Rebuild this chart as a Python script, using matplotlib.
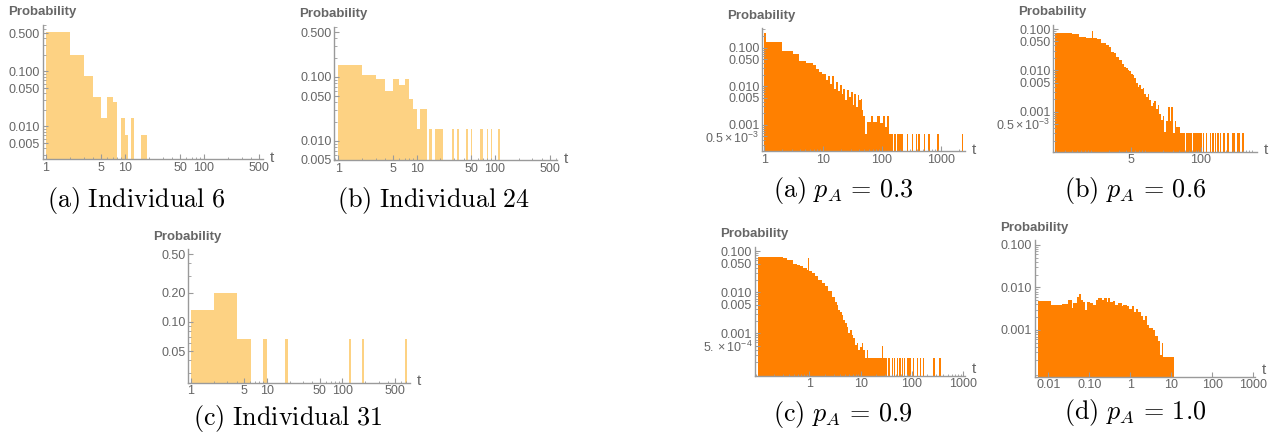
import numpy as np
import matplotlib
matplotlib.use('Agg')
import matplotlib.pyplot as plt
from matplotlib.ticker import NullFormatter

# ---- data: bin edges (t) and probabilities (0 = empty bin) ----
ind6_edges = [1, 2, 3, 4, 5, 6, 7, 8, 9, 10, 11, 12, 13, 16, 19]
ind6_prob = [0.53, 0.2, 0.083, 0.035, 0.0144, 0.035, 0.0275, 0, 0.0144, 0.0069, 0, 0.0144, 0, 0.0069]

ind24_edges = [1, 2, 3, 4, 5, 6, 7, 8, 9, 10, 11, 13.5, 14.4, 15.9, 17.3, 21.9, 28.5, 30.0, 33.0, 34.7,
               42.7, 44.8, 48.9, 51.4, 64.3, 69.6, 78.3, 82.2, 88.1, 92.5, 110, 116]
ind24_prob = [0.151, 0.106, 0.092, 0.061, 0.092, 0.075, 0.092, 0.0455, 0.031, 0.0155, 0.031, 0, 0.0155, 0,
              0.0155, 0, 0.0155, 0, 0.0155, 0, 0.0155, 0, 0.0155, 0, 0.0155, 0, 0.0155, 0, 0.0155, 0, 0.0155]

ind31_edges = [1, 2, 4.1, 6.15, 8.95, 10.2, 17.5, 18.9, 123, 131, 180, 191, 670, 712]
ind31_prob = [0.134, 0.2, 0.0666, 0, 0.0666, 0, 0.0666, 0, 0.0666, 0, 0.0666, 0, 0.0666]

pa03_edges = [1.0, 1.05, 2.02, 3.03, 3.93, 5.11, 6.81, 7.55, 8.61, 9.56, 11.2, 12.2, 13.1, 14.0, 15.3, 16.5,
              17.9, 19.3, 20.6, 22.0, 23.8, 25.1, 27.1, 29.3, 31.7, 33.4, 36.2, 39.1, 41.2, 43.4, 45.7, 48.2,
              52.1, 54.9, 64.2, 71.2, 81.2, 92.5, 103, 113, 120, 133, 146, 155, 160, 175, 180, 200, 205, 225,
              262, 280, 319, 341, 376, 395, 412, 441, 518, 543, 612, 655, 870, 913, 2250, 2350]
pa03_prob = [0.237, 0.143, 0.082, 0.071, 0.045, 0.0414, 0.0353, 0.0289, 0.0236, 0.0206, 0.0143, 0.0183,
             0.0117, 0.0183, 0.0087, 0.013, 0.0076, 0.0106, 0.0065, 0.0087, 0.0043, 0.0079, 0.0053, 0.0071,
             0.0032, 0.0065, 0.0029, 0.0058, 0.0043, 0.0048, 0.0024, 0.0017, 0.00058, 0.0012, 0.0017, 0.0012,
             0.0017, 0.0011, 0.0017, 0.00087, 0.0017, 0.00058, 0.00058, 0, 0.00058, 0, 0.00058, 0, 0.00058,
             0, 0.00058, 0, 0.00058, 0, 0.00058, 0, 0.00058, 0, 0.00058, 0, 0.00058, 0, 0.00058, 0, 0.00058]

pa06_edges = [0.196, 0.403, 0.537, 0.716, 0.955, 0.998, 1.186, 1.37, 1.70, 1.96, 2.11, 2.43, 2.69, 3.02,
              3.39, 3.75, 4.03, 4.33, 4.65, 5.0, 5.37, 5.77, 6.21, 6.67, 7.17, 7.70, 8.28, 8.89, 9.56, 10.27,
              11.04, 11.86, 12.74, 13.69, 14.7, 15.8, 17.0, 18.3, 19.6, 21.1, 22.7, 24.4, 26.2, 28.1, 30.2,
              32.5, 34.9, 40.3, 52, 54, 70, 73, 95, 98, 104, 110, 116, 124, 131, 147, 156, 165, 175, 183,
              194, 202, 214, 226, 239, 262, 277, 311, 329, 375, 397, 403, 427, 465, 492, 500, 530, 577, 638]
pa06_prob = [0.0786, 0.0743, 0.0652, 0.0617, 0.0895, 0.0617, 0.0562, 0.045, 0.041, 0.0374, 0.0283, 0.0258,
             0.0214, 0.0178, 0.0142, 0.0123, 0.0112, 0.0102, 0.0098, 0.0081, 0.0077, 0.0064, 0.005, 0.0039,
             0.0044, 0.0035, 0.0037, 0.0027, 0.0023, 0.0027, 0.0019, 0.0014, 0.0016, 0.0018, 0.0012, 0.0015,
             0.0009, 0.00063, 0.0008, 0.00033, 0.0006, 0.0013, 0.0006, 0.0013, 0.00031, 0.0006, 0.00043,
             0.00031, 0, 0.00031, 0, 0.00031, 0, 0.00031, 0, 0.00031, 0, 0.00031, 0, 0.00031, 0, 0.00031, 0,
             0.00031, 0, 0.00031, 0, 0.00031, 0, 0.00031, 0, 0.00031, 0, 0.00031, 0, 0.00031, 0, 0.00031, 0,
             0.00031, 0, 0.00031]

pa09_edges = [0.1015, 0.311, 0.362, 0.488, 0.567, 0.658, 0.764, 0.887, 0.956, 1.0, 1.11, 1.29, 1.50, 1.74,
              2.02, 2.35, 2.72, 3.16, 3.41, 3.67, 3.96, 4.26, 4.60, 4.95, 5.34, 5.75, 6.20, 6.68, 7.20, 7.76,
              8.36, 9.01, 9.70, 10.46, 11.27, 12.15, 13.09, 14.1, 23.8, 25.7, 26.8, 32.1, 34.6, 36.7, 40.2,
              42.7, 44.6, 47.4, 50.3, 53.4, 56.6, 60.1, 62.9, 66.8, 69.8, 74.1, 78.7, 83.6, 84.8, 90, 91.4,
              97, 106, 112, 123, 131, 143, 152, 161, 171, 260, 276, 341, 362]
pa09_prob = [0.0713, 0.0687, 0.0625, 0.049, 0.0471, 0.0429, 0.039, 0.0356, 0.0687, 0.0336, 0.0295, 0.0244,
             0.0202, 0.0168, 0.0139, 0.0105, 0.0079, 0.0057, 0.0049, 0.0037, 0.0034, 0.0028, 0.0021, 0.0018,
             0.00145, 0.001, 0.0012, 0.00091, 0.00076, 0.00052, 0.00057, 0.00039, 0.00047, 0.00057, 0.00039,
             0.00025, 0.00039, 0.00025, 0.00025, 0.0005, 0.00025, 0, 0.00025, 0, 0.00025, 0, 0.00025, 0,
             0.00025, 0, 0.00025, 0, 0.00025, 0, 0.00025, 0, 0.00025, 0, 0.00025, 0, 0.00025, 0, 0.00025, 0,
             0.00025, 0, 0.00025, 0, 0.00025, 0, 0.00025, 0, 0.00025]

pa10_edges = [0.0055, 0.0114, 0.016, 0.0211, 0.0307, 0.0371, 0.0407, 0.051, 0.057, 0.0615, 0.0688, 0.0784,
              0.0894, 0.1038, 0.1206, 0.1454, 0.166, 0.2, 0.228, 0.265, 0.291, 0.319, 0.385, 0.423, 0.51,
              0.615, 0.675, 0.814, 0.945, 1.078, 1.229, 1.375, 1.567, 1.786, 2.0, 2.28, 2.50, 2.91, 3.51,
              4.0, 4.82, 5.29, 5.81, 6.38, 10.2, 11.6]
pa10_prob = [0.00486, 0.0038, 0.0039, 0.0041, 0.0051, 0.0033, 0.0043, 0.0061, 0.0070, 0.0051, 0.0045, 0.0030,
             0.0045, 0.0043, 0.0038, 0.0051, 0.0056, 0.0051, 0.0056, 0.0045, 0.0056, 0.0045, 0.00486, 0.0038,
             0.0043, 0.0036, 0.0039, 0.0036, 0.0031, 0.0036, 0.0027, 0.0031, 0.0026, 0.0021, 0.0017, 0.0021,
             0.0013, 0.0011, 0.001, 0.00071, 0.00054, 0.00026, 0.0005, 0.00023, 0.00023]

YELLOW = '#FDD283'
ORANGE = '#FF8000'
TXT = '#666666'
LINE = '#9a9a9a'

plt.rcParams['font.family'] = ['Liberation Sans', 'DejaVu Sans']
plt.rcParams['mathtext.fontset'] = 'custom'
plt.rcParams['mathtext.rm'] = 'Liberation Sans'
plt.rcParams['mathtext.it'] = 'Liberation Sans:italic'

W, H = 1281, 434
fig = plt.figure(figsize=(W / 100, H / 100), dpi=100)


def rect(l, r, t, b):
    return [l / W, 1 - b / H, (r - l) / W, (b - t) / H]


def panel(box, edges, probs, color, xlim, ylim, xt, xtl, yt, ytl, t_up=1):
    ax = fig.add_axes(rect(*box))
    ax.set_xscale('log')
    ax.set_yscale('log')
    e = np.asarray(edges, float)
    p = np.asarray(probs, float)
    keep = p > 0
    ax.bar(e[:-1][keep], p[keep], width=np.diff(e)[keep], bottom=1e-9,
           align='edge', color=color, linewidth=0)
    ax.set_xlim(*xlim)
    ax.set_ylim(*ylim)
    ax.set_xticks(xt)
    ax.set_xticklabels(xtl)
    ax.set_yticks(yt)
    ax.set_yticklabels(ytl)
    ax.xaxis.set_minor_formatter(NullFormatter())
    ax.yaxis.set_minor_formatter(NullFormatter())
    for s in ['top', 'right']:
        ax.spines[s].set_visible(False)
    for s in ['left', 'bottom']:
        ax.spines[s].set_color(LINE)
        ax.spines[s].set_linewidth(1.0)
    ax.tick_params(which='major', direction='in', length=3.5, width=0.8, color=LINE,
                   labelcolor=TXT, labelsize=9, pad=2)
    ax.tick_params(which='minor', direction='in', length=1.8, width=0.6, color=LINE)
    ax.patch.set_alpha(0)
    ax.annotate('Probability', xy=(0, 1), xycoords='axes fraction', xytext=(-25, 9),
                textcoords='offset points', ha='left', va='center', fontsize=9.5,
                fontweight='bold', color=TXT)
    ax.annotate('t', xy=(1, 0), xycoords='axes fraction', xytext=(5, t_up),
                textcoords='offset points', ha='left', va='center', fontsize=11, color=TXT)
    return ax


tx = [1, 5, 10, 50, 100, 500]
txl = ['1', '5', '10', '50', '100', '500']
y_ind = [0.005, 0.01, 0.05, 0.1, 0.5]
y_indl = ['0.005', '0.010', '0.050', '0.100', '0.500']

panel((42.7, 263, 25, 159), ind6_edges, ind6_prob, YELLOW, (0.91, 560), (0.00256, 0.7),
      tx, txl, y_ind, y_indl)
panel((334.3, 556.7, 26.7, 160), ind24_edges, ind24_prob, YELLOW, (0.89, 612), (0.005, 0.61),
      tx, txl, y_ind, y_indl)
panel((188.3, 410, 249.3, 382.7), ind31_edges, ind31_prob, YELLOW, (0.92, 780), (0.0236, 0.56),
      tx, txl, [0.05, 0.1, 0.2, 0.5], ['0.05', '0.10', '0.20', '0.50'])

y_p = [0.0005, 0.001, 0.005, 0.01, 0.05, 0.1]
y_pl = [r'$0.5\times10^{-3}$', '0.001', '0.005', '0.010', '0.050', '0.100']
panel((762.3, 965, 28.3, 151), pa03_edges, pa03_prob, ORANGE, (0.925, 2570), (0.00021, 0.32),
      [1, 10, 100, 1000], ['1', '10', '100', '1000'], y_p, y_pl)
panel((1053.3, 1256.7, 25, 151.7), pa06_edges, pa06_prob, ORANGE, (0.18, 1100), (0.000109, 0.125),
      [5, 100], ['5', '100'], y_p, y_pl)
panel((755, 965, 246.7, 375.7), pa09_edges, pa09_prob, ORANGE, (0.087, 1084), (0.000092, 0.13),
      [1, 10, 100, 1000], ['1', '10', '100', '1000'], y_p,
      [r'$5.\times10^{-4}$', '0.001', '0.005', '0.010', '0.050', '0.100'], t_up=5)
panel((1035, 1255, 240, 376.7), pa10_edges, pa10_prob, ORANGE, (0.0047, 1100), (0.00008, 0.13),
      [0.01, 0.1, 1, 10, 100, 1000], ['0.01', '0.10', '1', '10', '100', '1000'],
      [0.001, 0.01, 0.1], ['0.001', '0.010', '0.100'], t_up=5)

captions = [(136, 200, r'$\mathrm{(a)\ Individual\ 6}$'),
            (434, 200, r'$\mathrm{(b)\ Individual\ 24}$'),
            (287, 419, r'$\mathrm{(c)\ Individual\ 31}$'),
            (843, 191, r'$\mathrm{(a)}\ p_A\, =\, 0.3$'),
            (1135, 191, r'$\mathrm{(b)}\ p_A\, =\, 0.6$'),
            (843, 415, r'$\mathrm{(c)}\ p_A\, =\, 0.9$'),
            (1135, 413, r'$\mathrm{(d)}\ p_A\, =\, 1.0$')]
for cx, cy, s in captions:
    fig.text(cx / W, 1 - cy / H, s, ha='center', va='center', fontsize=18.8,
             math_fontfamily='cm', color='black')

fig.savefig('out.png', dpi=100, facecolor='white')
